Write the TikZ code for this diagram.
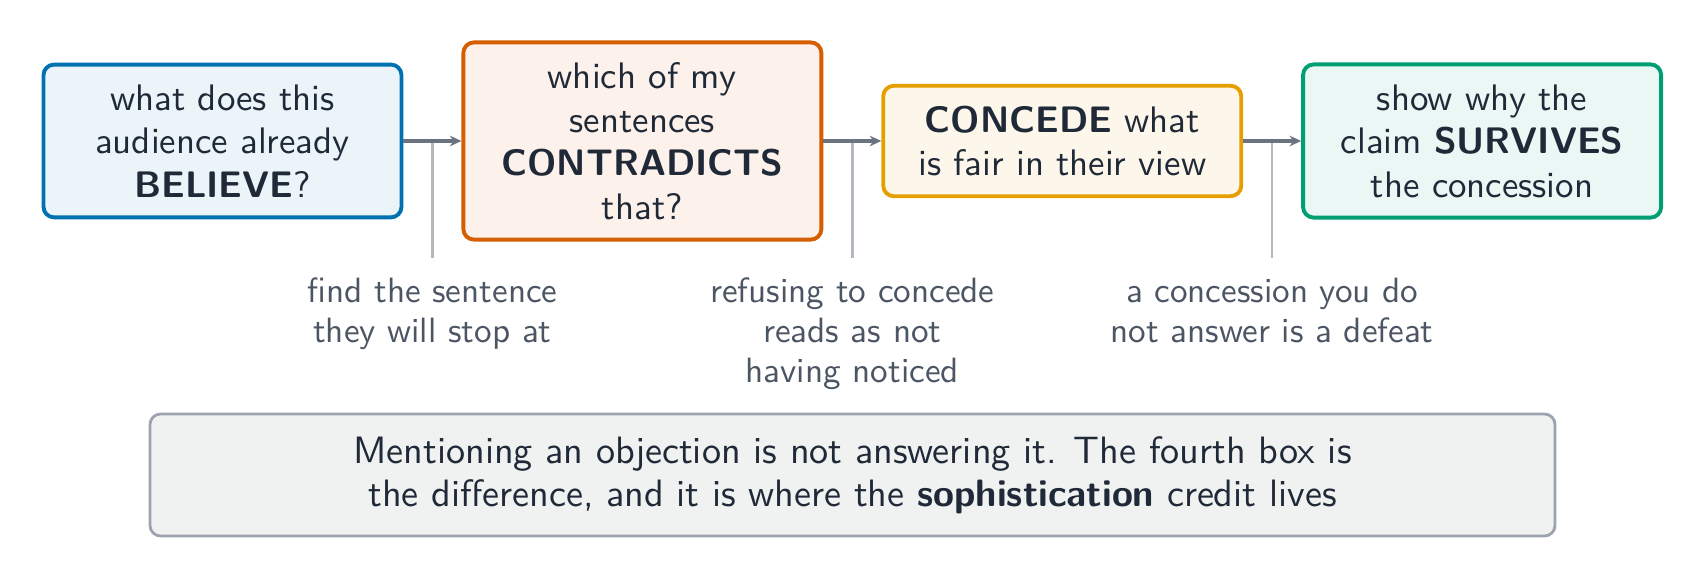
\documentclass[tikz,border=0pt]{standalone}
\usepackage{tikz}
\usetikzlibrary{positioning,arrows.meta,calc}
\definecolor{okblue}{HTML}{0072B2}
\definecolor{okred}{HTML}{D55E00}
\definecolor{okorange}{HTML}{E69F00}
\definecolor{okgreen}{HTML}{009E73}
\definecolor{ink}{HTML}{1F2937}
\definecolor{muted}{HTML}{4B5563}
\definecolor{wire}{HTML}{6B7280}
\definecolor{leadgray}{HTML}{B4B8BE}
\definecolor{panel}{HTML}{F0F2F1}
\definecolor{panelline}{HTML}{9CA3AF}
\tikzset{card/.style={
    draw=#1, fill=#1!8, line width=1.1pt, rounded corners=3pt,
    minimum width=3.58cm, align=center, inner ysep=0.2cm,
    text=ink, font=\sffamily\fontsize{10.5}{12.4}\selectfont
  },
  flow/.style={wire, line width=0.95pt, -{Stealth[length=3.3pt,width=3pt]}},
  leader/.style={leadgray, line width=0.7pt},
  hint/.style={
    align=center, inner xsep=0pt, inner ysep=0.19cm,
    text=muted, font=\sffamily\fontsize{10}{11.4}\selectfont
  },
  summary/.style={
    draw=panelline, fill=panel, line width=0.8pt, rounded corners=3pt,
    minimum width=14.05cm, minimum height=1.22cm, align=center,
    text=ink, font=\sffamily\fontsize{10.85}{12.3}\selectfont
  }
}
\begin{document}
\begin{tikzpicture}
  \useasboundingbox (0,0) rectangle (17.04,-5.81);
  \node[card=okblue] (believe) at (2.225,-1.41) {what does this\\audience already\\\textbf{BELIEVE}?};
  \node[card=okred, right=0.58cm of believe] (contra) {which of my\\sentences\\\textbf{CONTRADICTS}\\that?};
  \node[card=okorange, right=0.58cm of contra] (concede) {\textbf{CONCEDE} what\\is fair in their view};
  \node[card=okgreen, right=0.58cm of concede] (survive) {show why the\\claim \textbf{SURVIVES}\\the concession};
  \coordinate (m1) at ($(believe.east)!0.5!(contra.west)$);
  \coordinate (m2) at ($(contra.east)!0.5!(concede.west)$);
  \coordinate (m3) at ($(concede.east)!0.5!(survive.west)$);
  \node[hint, below=1.17cm of m1] (h1) {find the sentence\\they will stop at};
  \node[hint, below=1.17cm of m2] (h2) {refusing to concede\\reads as not\\having noticed};
  \node[hint, below=1.17cm of m3] (h3) {a concession you do\\not answer is a defeat};
  \draw[leader] (m1) -- (h1.north);
  \draw[leader] (m2) -- (h2.north);
  \draw[leader] (m3) -- (h3.north);
  \draw[flow] (believe) -- (contra);
  \draw[flow] (contra) -- (concede);
  \draw[flow] (concede) -- (survive);
  \node[summary] (moral) at (8.525,-4.75) {Mentioning an objection is not answering it. The fourth box is\\the difference, and it is where the \textbf{sophistication} credit lives};
\end{tikzpicture}
\end{document}
